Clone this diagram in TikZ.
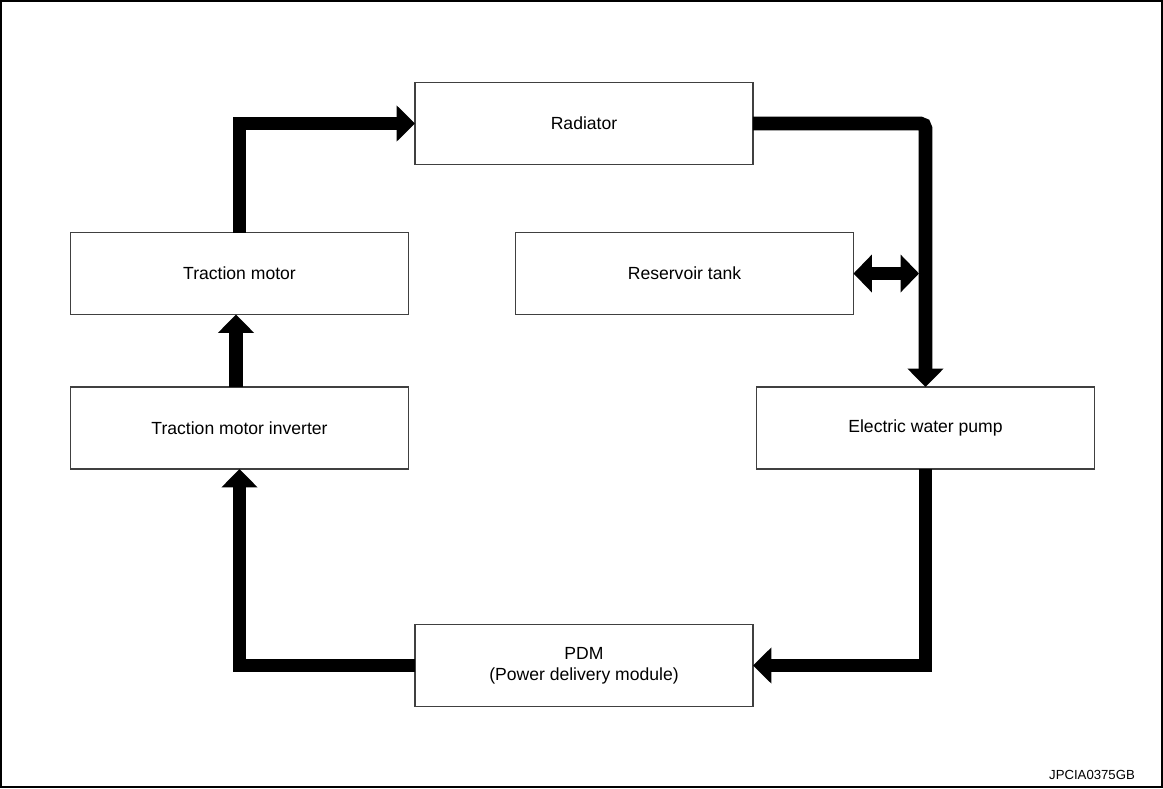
\documentclass[tikz,border=0pt]{standalone}
\usepackage{fontspec}
\setmainfont{Liberation Sans}
\usetikzlibrary{arrows.meta}
\tikzset{
  unit/.style={draw=black!75, line width=0.7pt, minimum width=6.76cm,
    minimum height=1.64cm, inner sep=0pt, outer sep=0pt, align=center,
    font=\fontsize{10}{12}\selectfont},
  flow/.style={line width=7.9pt, -{Triangle[length=10.5pt,width=20pt]}},
  swap/.style={line width=7.4pt,
    {Triangle[length=10.5pt,width=21pt]}-{Triangle[length=10.5pt,width=21pt]}},
}
\begin{document}
\begin{tikzpicture}[x=0.02cm,y=-0.02cm]
      \useasboundingbox (0,0) rectangle (1163,788);
      \draw[line width=1.2pt] (1,1) rectangle (1162,787);
      \draw
        (584,123.5) node[unit] (radiator){Radiator}
        (239.5,273.5) node[unit] (motor){Traction motor}
        (684.5,273.5) node[unit] (tank){Reservoir tank}
        (239.5,428) node[unit] (inverter){Traction motor inverter}
        (925.5,428) node[unit] (pump){Electric water pump}
        (584,665.5) node[unit] (pdm){PDM\\(Power delivery module)}
        (1092,775) node[font=\fontsize{7.5}{9}\selectfont] (tag){JPCIA0375GB};
      \coordinate (tee) at (919,273.5);
      \begin{scope}[flow]
        \draw (motor.north) |- (radiator.west);
        \draw[rounded corners=3pt] (radiator.east) -| (pump.north);
        \draw (pump.south) |- (pdm.east);
        \draw (pdm.west) -| (inverter.south);
        \draw ([xshift=-0.07cm]inverter.north) -- ([xshift=-0.07cm]motor.south);
      \end{scope}
      \draw[swap] (tank.east) -- (tee);
    \end{tikzpicture}
\end{document}
